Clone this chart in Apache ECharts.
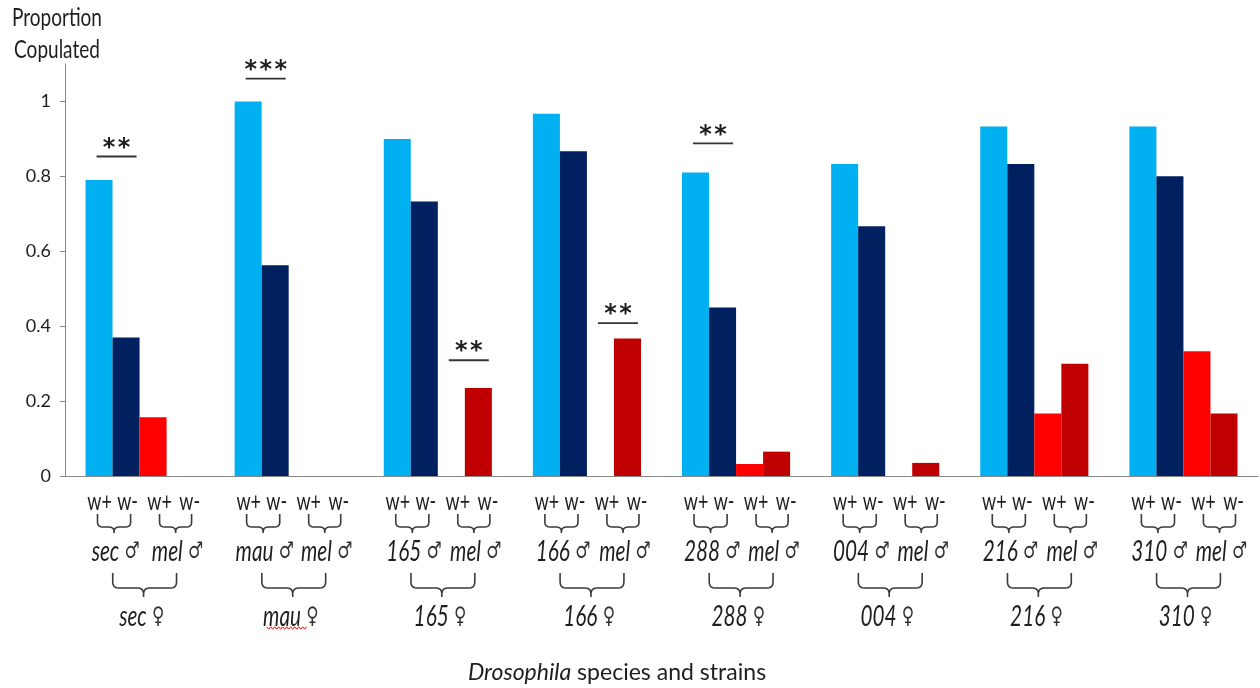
<!DOCTYPE html>
<html lang="en">
<head>
  <meta charset="UTF-8">
  <script src="https://cdn.jsdelivr.net/npm/echarts@6/dist/echarts.min.js"></script>
  <style>
    body { margin: 0; background: #ffffff; }
    #main { width: 1260px; height: 688px; }
  </style>
</head>
<body>
  <div id="main"></div>
  <script>
    // strains (female / own male)
    var groups = ['sec', 'mau', '165', '166', '288', '004', '216', '310'];
    var ownWPlus  = [0.79, 1.0, 0.9, 0.967, 0.81, 0.833, 0.933, 0.933];
    var ownWMinus = [0.37, 0.563, 0.733, 0.867, 0.45, 0.667, 0.833, 0.8];
    var melWPlus  = [0.157, 0, 0, 0, 0.032, 0, 0.167, 0.333];
    var melWMinus = [0, 0, 0.235, 0.367, 0.065, 0.035, 0.3, 0.167];
    var barLabels = ['w+', 'w-', 'w+', 'w-'];
    var yTicks = [0, 0.2, 0.4, 0.6, 0.8, 1];

    // significance brackets: group, pair (0 own male, 1 mel male), stars, bracket level
    var sigGroup = [0, 1, 2, 3, 4];
    var sigPair  = [0, 0, 1, 1, 0];
    var sigStars = [2, 3, 2, 2, 2];
    var sigLevel = [0.853, 1.061, 0.309, 0.408, 0.888];

    var font = 'Lato, "DejaVu Sans", sans-serif';
    var ink = '#1e1e1e';
    var braceInk = '#3a3a3a';

    var chart = echarts.init(document.getElementById('main'));

    function bar(name, data, color) {
      return {
        type: 'bar', name: name, data: data,
        barGap: '0%', barCategoryGap: '27.5%',
        itemStyle: { color: color },
        emphasis: { disabled: true }
      };
    }

    chart.setOption({
      animation: false,
      grid: { left: 65, right: 2, top: 64, bottom: 212 },
      xAxis: {
        type: 'category',
        data: groups,
        axisLine: { lineStyle: { color: '#868686', width: 1 } },
        axisTick: { length: 9, lineStyle: { color: '#868686' } },
        axisLabel: { show: false }
      },
      yAxis: {
        type: 'value',
        min: 0, max: 1.1, interval: 0.2,
        axisLine: { show: true, lineStyle: { color: '#868686', width: 1 } },
        axisTick: { show: true, length: 5, customValues: yTicks, lineStyle: { color: '#868686' } },
        axisLabel: { customValues: yTicks, margin: 14, color: ink, fontFamily: font, fontSize: 18 },
        splitLine: { show: false }
      },
      series: [
        bar('own w+', ownWPlus, '#00B0F0'),
        bar('own w-', ownWMinus, '#002060'),
        bar('mel w+', melWPlus, '#FF0000'),
        bar('mel w-', melWMinus, '#C00000')
      ]
    });

    function px(i) { return chart.convertToPixel({ xAxisIndex: 0 }, i); }
    function py(v) { return chart.convertToPixel({ yAxisIndex: 0 }, v); }

    var band = px(1) - px(0);
    var y0 = py(0);
    var els = [];

    function text(str, x, y, size, sx, rich, family, weight) {
      els.push({
        type: 'text', x: x, y: y, scaleX: sx, silent: true,
        style: {
          text: str, fill: ink, fontFamily: family || font, fontSize: size,
          fontWeight: weight || 'normal',
          align: 'center', verticalAlign: 'middle',
          textAlign: 'center', textVerticalAlign: 'middle',
          rich: rich
        }
      });
    }

    function quad(pts, a, c, b) {
      for (var t = 0.2; t <= 1.001; t += 0.2) {
        var u = 1 - t;
        pts.push([u * u * a[0] + 2 * u * t * c[0] + t * t * b[0],
                  u * u * a[1] + 2 * u * t * c[1] + t * t * b[1]]);
      }
    }

    function brace(x0, x1, xt, yt, ym, yb, r) {
      var pts = [[x0, yt], [x0, ym - r]];
      quad(pts, [x0, ym - r], [x0, ym], [x0 + r, ym]);
      pts.push([xt - r, ym]);
      quad(pts, [xt - r, ym], [xt, ym], [xt, ym + r]);
      pts.push([xt, yb], [xt, ym + r]);
      quad(pts, [xt, ym + r], [xt, ym], [xt + r, ym]);
      pts.push([x1 - r, ym]);
      quad(pts, [x1 - r, ym], [x1, ym], [x1, ym - r]);
      pts.push([x1, yt]);
      els.push({
        type: 'polyline', silent: true,
        shape: { points: pts },
        style: { stroke: braceInk, lineWidth: 1.6, fill: null }
      });
    }

    var wOff = [-0.268, -0.08, 0.134, 0.336];
    var rich = {
      i: { fontFamily: font, fontStyle: 'italic', fontSize: 28, fill: ink },
      s: { fontFamily: '"DejaVu Sans", sans-serif', fontSize: 23, fill: '#333333' }
    };

    groups.forEach(function (g, i) {
      var c = px(i);
      barLabels.forEach(function (lab, k) {
        text(lab, c + wOff[k] * band, y0 + 26, 25, 0.72);
      });
      brace(c - 0.282 * band, c - 0.06 * band, c - 0.171 * band, y0 + 38, y0 + 51, y0 + 57, 5);
      brace(c + 0.134 * band, c + 0.349 * band, c + 0.242 * band, y0 + 38, y0 + 51, y0 + 57, 5);
      text('{i|' + g + '} {s|\u2642}', c - 0.16 * band, y0 + 76, 28, 0.74, rich);
      text('{i|mel} {s|\u2642}', c + 0.255 * band, y0 + 76, 28, 0.74, rich);
      brace(c - 0.18 * band, c + 0.248 * band, c + 0.027 * band, y0 + 97, y0 + 112, y0 + 121, 6);
      text('{i|' + g + '} {s|\u2640}', c + 0.015 * band, y0 + 141, 28, 0.74, rich);
    });

    // spell-check squiggle under "mau"
    (function () {
      var c = px(1), pts = [];
      for (var x = c - 22; x <= c + 18; x += 2) {
        pts.push([x, y0 + 152 + ((x - c) % 4 === 0 ? 1.2 : -1.2)]);
      }
      els.push({ type: 'polyline', silent: true, shape: { points: pts },
        style: { stroke: '#FF0000', lineWidth: 1, fill: null } });
    })();

    // significance brackets
    sigGroup.forEach(function (g, k) {
      var mid = px(g) + (sigPair[k] ? 0.181 : -0.181) * band + 4;
      var ly = py(sigLevel[k]);
      els.push({
        type: 'line', silent: true,
        shape: { x1: mid - 20, y1: ly, x2: mid + 20, y2: ly },
        style: { stroke: '#333333', lineWidth: 1.8 }
      });
      var n = sigStars[k];
      for (var s = 0; s < n; s++) {
        var sx = mid + (s - (n - 1) / 2) * 15;
        text('*', sx, ly - 8, 24, 1, null, '"DejaVu Sans", sans-serif', 'bold');
      }
    });

    // axis titles
    text('Proportion', 57, 18, 25, 0.76);
    text('Copulated', 57, 50, 25, 0.76);
    text('{i|Drosophila} species and strains', 617, 672, 24, 0.96,
      { i: { fontFamily: font, fontStyle: 'italic', fontSize: 24, fill: ink } });

    chart.setOption({ graphic: { elements: els } });
  </script>
</body>
</html>
